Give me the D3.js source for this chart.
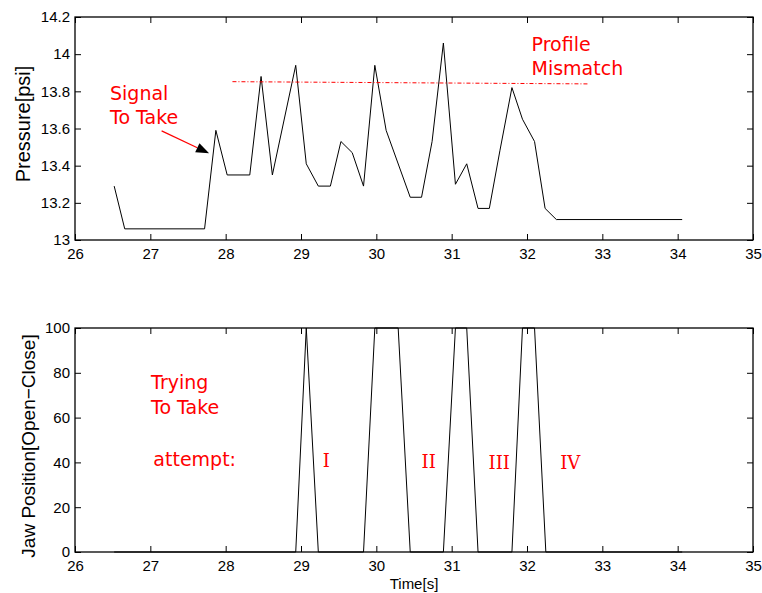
<!DOCTYPE html>
<html>
<head>
<meta charset="utf-8">
<script src="https://d3js.org/d3.v7.min.js"></script>
<style>
  body { margin: 0; background: #fff; }
  svg { display: block; }
  .axis text { font-family: "Liberation Sans", Arial, sans-serif; font-size: 15px; fill: #000; }
  .axis line { stroke: #000; }
  .axis path { display: none; }
  .axis-label { font-family: "Liberation Sans", Arial, sans-serif; fill: #000; }
  .note { font-family: "DejaVu Sans", Verdana, sans-serif; font-size: 19px; fill: #ff0000; }
  .roman { font-family: "DejaVu Serif", serif; font-size: 18px; fill: #ff0000; }
</style>
</head>
<body>
<div id="chart"></div>
<script>
// pressure trace (top panel)
var pressureTime = [26.52, 26.66, 27.72, 27.87, 28.02, 28.32, 28.47, 28.62, 28.93, 29.07, 29.23, 29.39,
                    29.53, 29.68, 29.83, 29.98, 30.13, 30.45, 30.6, 30.74, 30.89, 31.05, 31.2, 31.35,
                    31.5, 31.64, 31.8, 31.94, 32.1, 32.24, 32.39, 34.06];
var pressure = [13.29, 13.06, 13.06, 13.59, 13.35, 13.35, 13.88, 13.35, 13.94, 13.41, 13.29, 13.29,
                13.53, 13.47, 13.29, 13.94, 13.59, 13.23, 13.23, 13.53, 14.06, 13.30, 13.41, 13.17,
                13.17, 13.48, 13.82, 13.65, 13.53, 13.17, 13.11, 13.11];

// profile threshold (red dash-dot)
var profileTime = [28.09, 32.82];
var profileValue = [13.852, 13.84];

// jaw position (bottom panel)
var jawTime = [26.52, 28.93, 29.07, 29.23, 29.83, 29.98, 30.29, 30.45, 30.89, 31.05, 31.2, 31.35,
               31.8, 31.94, 32.1, 32.25, 34.06];
var jaw = [0, 0, 100, 0, 0, 100, 100, 0, 0, 100, 100, 0, 0, 100, 100, 0, 0];

// ticks
var timeTicks = [26, 27, 28, 29, 30, 31, 32, 33, 34, 35];
var pressureTicks = [13, 13.2, 13.4, 13.6, 13.8, 14, 14.2];
var jawTicks = [0, 20, 40, 60, 80, 100];

// annotations, in data coordinates
var topNotes = [
    {text: "Signal", t: 26.465, v: 13.753},
    {text: "To Take", t: 26.465, v: 13.624},
    {text: "Profile", t: 32.06, v: 14.017},
    {text: "Mismatch", t: 32.06, v: 13.888}
];
var bottomNotes = [
    {text: "Trying", t: 27.01, v: 72.8},
    {text: "To Take", t: 27.01, v: 61.6},
    {text: "attempt:", t: 27.04, v: 38.4}
];
var attemptLabels = ["I", "II", "III", "IV"];
var attemptTime = [29.29, 30.6, 31.49, 32.44];
var attemptValue = [38.0, 37.5, 37.0, 37.0];

var width = 762, height = 593;
var left = 75, right = 753;
var topPanel = {top: 17, bottom: 240};
var botPanel = {top: 328, bottom: 552};
var tick = 6;

var svg = d3.select("#chart").append("svg")
    .attr("width", width)
    .attr("height", height);

var x = d3.scaleLinear().domain([26, 35]).range([left, right]);
var yP = d3.scaleLinear().domain([13, 14.2]).range([topPanel.bottom, topPanel.top]);
var yJ = d3.scaleLinear().domain([0, 100]).range([botPanel.bottom, botPanel.top]);

function fmt(d) { return d3.format("")(+d.toFixed(1)); }

function panel(y, ticks, p) {
    var g = svg.append("g");
    g.append("g").attr("class", "axis")
        .attr("transform", "translate(0," + p.bottom + ")")
        .call(d3.axisBottom(x).tickValues(timeTicks).tickSizeInner(-tick).tickSizeOuter(0).tickPadding(8));
    g.append("g").attr("class", "axis")
        .attr("transform", "translate(0," + p.top + ")")
        .call(d3.axisTop(x).tickValues(timeTicks).tickSizeInner(-tick).tickSizeOuter(0).tickFormat(""));
    g.append("g").attr("class", "axis")
        .attr("transform", "translate(" + left + ",0)")
        .call(d3.axisLeft(y).tickValues(ticks).tickSizeInner(-tick).tickSizeOuter(0).tickPadding(5).tickFormat(fmt));
    g.append("g").attr("class", "axis")
        .attr("transform", "translate(" + right + ",0)")
        .call(d3.axisRight(y).tickValues(ticks).tickSizeInner(-tick).tickSizeOuter(0).tickFormat(""));
    g.append("rect")
        .attr("x", left).attr("y", p.top)
        .attr("width", right - left).attr("height", p.bottom - p.top)
        .attr("fill", "none").attr("stroke", "#000").attr("stroke-width", 1.3);
    return g;
}

panel(yP, pressureTicks, topPanel);
panel(yJ, jawTicks, botPanel);

// pressure line
var lineP = d3.line().x(function(d) { return x(d[0]); }).y(function(d) { return yP(d[1]); });
svg.append("path")
    .datum(d3.zip(pressureTime, pressure))
    .attr("d", lineP)
    .attr("fill", "none").attr("stroke", "#000").attr("stroke-width", 1);

// profile mismatch threshold
svg.append("path")
    .datum(d3.zip(profileTime, profileValue))
    .attr("d", lineP)
    .attr("fill", "none").attr("stroke", "#ff0000").attr("stroke-width", 1)
    .attr("stroke-dasharray", "4,2,1,2");

// jaw line
var lineJ = d3.line().x(function(d) { return x(d[0]); }).y(function(d) { return yJ(d[1]); });
svg.append("path")
    .datum(d3.zip(jawTime, jaw))
    .attr("d", lineJ)
    .attr("fill", "none").attr("stroke", "#000").attr("stroke-width", 1);

// arrow: red shaft, black head
var a0 = [x(27.15), yP(13.587)], a1 = [x(27.78), yP(13.467)];
var dx = a1[0] - a0[0], dy = a1[1] - a0[1], len = Math.sqrt(dx * dx + dy * dy);
var ux = dx / len, uy = dy / len, headLen = 13, headW = 5;
var base = [a1[0] - ux * headLen, a1[1] - uy * headLen];
svg.append("line")
    .attr("x1", a0[0]).attr("y1", a0[1]).attr("x2", base[0]).attr("y2", base[1])
    .attr("stroke", "#ff0000").attr("stroke-width", 1.2);
svg.append("path")
    .attr("d", "M" + a1[0] + "," + a1[1] +
        "L" + (base[0] - uy * headW) + "," + (base[1] + ux * headW) +
        "L" + (base[0] + uy * headW) + "," + (base[1] - ux * headW) + "Z")
    .attr("fill", "#000");

// annotations
svg.selectAll(".note-top").data(topNotes).enter().append("text")
    .attr("class", "note")
    .attr("x", function(d) { return x(d.t); })
    .attr("y", function(d) { return yP(d.v); })
    .text(function(d) { return d.text; });

svg.selectAll(".note-bot").data(bottomNotes).enter().append("text")
    .attr("class", "note")
    .attr("x", function(d) { return x(d.t); })
    .attr("y", function(d) { return yJ(d.v); })
    .text(function(d) { return d.text; });

svg.selectAll(".roman").data(attemptLabels).enter().append("text")
    .attr("class", "roman")
    .attr("x", function(d, i) { return x(attemptTime[i]); })
    .attr("y", function(d, i) { return yJ(attemptValue[i]); })
    .text(function(d) { return d; });

// axis labels
svg.append("text")
    .attr("class", "axis-label")
    .attr("text-anchor", "middle")
    .attr("font-size", 20)
    .attr("transform", "translate(30,124) rotate(-90)")
    .text("Pressure[psi]");

svg.append("text")
    .attr("class", "axis-label")
    .attr("text-anchor", "middle")
    .attr("font-size", 19)
    .attr("transform", "translate(35,446) rotate(-90)")
    .text("Jaw Position[Open\u2212Close]");

svg.append("text")
    .attr("class", "axis-label")
    .attr("text-anchor", "middle")
    .attr("font-size", 15)
    .attr("x", (left + right) / 2)
    .attr("y", 589)
    .text("Time[s]");
</script>
</body>
</html>
